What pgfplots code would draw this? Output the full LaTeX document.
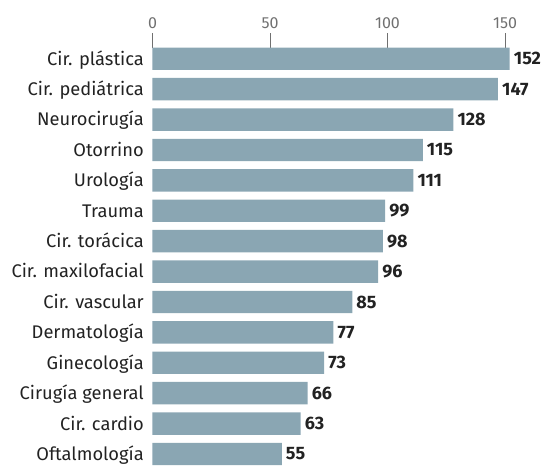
\documentclass[border=0pt]{standalone}
\usepackage{fontspec}
\setmainfont{Fira Sans}
\usepackage{pgfplots}
\pgfplotsset{compat=1.18}
\definecolor{barc}{HTML}{8AA6B3}
\definecolor{txt}{HTML}{222222}
\definecolor{tickc}{HTML}{707070}
\begin{document}
\begin{tikzpicture}
\begin{axis}[
  anchor=south west,
  at={(152.5pt,-4.2pt)},
  scale only axis,
  width=388.5pt,
  height=421.6pt,
  xmin=0, xmax=165.3,
  ymin=-0.5, ymax=13.368,
  xbar,
  bar width=22.4pt,
  /pgf/number format/assume math mode=true,
  axis line style={draw=none},
  tick align=outside,
  major tick length=14.4pt,
  xtick={0,50,100,150},
  xtick pos=right,
  xticklabel pos=right,
  xtick style={draw=tickc, line width=1pt},
  xticklabel style={font=\fontsize{16}{16}\selectfont, text=tickc, inner sep=0pt, yshift=4.4pt},
  ytick={0,...,13},
  yticklabels={Oftalmología, Cir. cardio, Cirugía general, Ginecología, Dermatología, Cir. vascular, Cir. maxilofacial, Cir. torácica, Trauma, Urología, Otorrino, Neurocirugía, Cir. pediátrica, Cir. plástica},
  ytick pos=left,
  ytick style={draw=none},
  yticklabel style={font=\fontsize{18.3}{18.3}\selectfont, text=txt, anchor=base east, inner sep=0pt, xshift=5.9pt, yshift=-6.4pt},
  nodes near coords,
  nodes near coords align={horizontal},
  every node near coord/.append style={font=\fontsize{18}{18}\selectfont\bfseries, text=txt, anchor=west, inner sep=0pt, xshift=4pt},
  clip=false,
]
\addplot[draw=none, fill=barc] coordinates {
  (55,0) (63,1) (66,2) (73,3) (77,4) (85,5) (96,6) (98,7) (99,8) (111,9) (115,10) (128,11) (147,12) (152,13)
};
\end{axis}
\useasboundingbox (0,0) rectangle (541pt,465pt);
\end{tikzpicture}
\end{document}
